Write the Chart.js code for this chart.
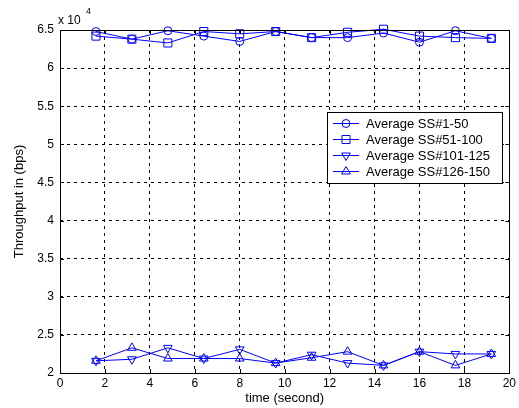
<!DOCTYPE html>
<html><head><meta charset="utf-8">
<script src="https://cdn.jsdelivr.net/npm/chart.js@4/dist/chart.umd.min.js"></script>
<style>html,body{margin:0;padding:0;background:#fff;}canvas{display:block;}</style>
</head><body>
<canvas id="c" width="519" height="408"></canvas>
<script>
// ---- data ----
const timeSec = [1.6, 3.2, 4.8, 6.4, 8.0, 9.6, 11.2, 12.8, 14.4, 16.0, 17.6, 19.2];
const xTickValues = [0, 2, 4, 6, 8, 10, 12, 14, 16, 18, 20];
const yTickValues = [20000, 25000, 30000, 35000, 40000, 45000, 50000, 55000, 60000, 65000];
const seriesLabels = ['Average SS#1-50', 'Average SS#51-100', 'Average SS#101-125', 'Average SS#126-150'];
const ss1_50   = [64800, 63800, 64900, 64200, 63500, 64800, 64000, 64000, 64600, 63400, 64900, 63900];
const ss51_100 = [64200, 63800, 63300, 64800, 64500, 64800, 64000, 64700, 65100, 64200, 64000, 63900];
const ss101_125 = [21600, 21800, 23300, 21900, 23100, 21300, 22400, 21300, 21000, 22800, 22500, 22500];
const ss126_150 = [21600, 23300, 21900, 21900, 21900, 21300, 22000, 22800, 21000, 22800, 21000, 22500];

const FONT = "'Liberation Sans', Arial, Helvetica, sans-serif";
const BLUE = '#0000ff';
const styles = [
  {pointStyle: 'circle', radius: 4, rotation: 0},
  {pointStyle: 'rect', radius: 5.7, rotation: 0},
  {pointStyle: 'triangle', radius: 5, rotation: 180},
  {pointStyle: 'triangle', radius: 5, rotation: 0}
];
const seriesValues = [ss1_50, ss51_100, ss101_125, ss126_150];

const datasets = seriesValues.map((vals, i) => ({
  label: seriesLabels[i],
  data: vals.map((v, j) => ({x: timeSec[j], y: v})),
  borderColor: BLUE,
  backgroundColor: 'transparent',
  borderWidth: 1,
  tension: 0,
  pointStyle: styles[i].pointStyle,
  pointRadius: styles[i].radius,
  pointRotation: styles[i].rotation,
  pointBorderColor: BLUE,
  pointBackgroundColor: 'transparent',
  pointBorderWidth: 1,
  clip: false
}));

function drawMarker(ctx, style, x, y) {
  const r = style.radius;
  ctx.beginPath();
  if (style.pointStyle === 'circle') {
    ctx.arc(x, y, r, 0, Math.PI * 2);
  } else if (style.pointStyle === 'rect') {
    const h = r * Math.SQRT1_2;
    ctx.rect(x - h, y - h, 2 * h, 2 * h);
  } else {
    let rad = style.rotation * Math.PI / 180;
    for (let k = 0; k < 3; k++) {
      const px = x + Math.sin(rad) * r, py = y - Math.cos(rad) * r;
      if (k === 0) ctx.moveTo(px, py); else ctx.lineTo(px, py);
      rad += 2 * Math.PI / 3;
    }
    ctx.closePath();
  }
  ctx.stroke();
}

const matlabPlugin = {
  id: 'matlabDecor',
  afterDraw(chart) {
    const ctx = chart.ctx;
    const a = chart.chartArea;
    const xs = chart.scales.x, ys = chart.scales.y;
    ctx.save();
    // frame
    ctx.strokeStyle = '#000';
    ctx.lineWidth = 1;
    ctx.setLineDash([]);
    ctx.strokeRect(Math.round(a.left) + 0.5, Math.round(a.top) + 0.5,
                   Math.round(a.right - a.left), Math.round(a.bottom - a.top));
    // inward tick marks
    const tl = 4;
    ctx.beginPath();
    xTickValues.forEach(v => {
      const px = Math.round(xs.getPixelForValue(v)) + 0.5;
      ctx.moveTo(px, a.bottom); ctx.lineTo(px, a.bottom - tl);
      ctx.moveTo(px, a.top); ctx.lineTo(px, a.top + tl);
    });
    yTickValues.forEach(v => {
      const py = Math.round(ys.getPixelForValue(v)) + 0.5;
      ctx.moveTo(a.left, py); ctx.lineTo(a.left + tl, py);
      ctx.moveTo(a.right, py); ctx.lineTo(a.right - tl, py);
    });
    ctx.stroke();
    // exponent label
    ctx.fillStyle = '#000';
    ctx.textBaseline = 'alphabetic';
    ctx.textAlign = 'left';
    ctx.font = '12px ' + FONT;
    ctx.fillText('x 10', a.left - 2, a.top - 6);
    ctx.font = '9px ' + FONT;
    ctx.fillText('4', a.left + 26, a.top - 16);
    // legend
    const L = {x: 327, y: 112, w: 175, h: 71};
    ctx.fillStyle = '#fff';
    ctx.fillRect(L.x, L.y, L.w, L.h);
    ctx.strokeStyle = '#000';
    ctx.strokeRect(L.x + 0.5, L.y + 0.5, L.w, L.h);
    ctx.font = '13px ' + FONT;
    ctx.textBaseline = 'middle';
    chart.data.datasets.forEach((ds, i) => {
      const y = L.y + 11.5 + i * 16;
      ctx.strokeStyle = BLUE;
      ctx.lineWidth = 1;
      ctx.beginPath();
      ctx.moveTo(L.x + 6, y); ctx.lineTo(L.x + 32, y);
      ctx.stroke();
      drawMarker(ctx, styles[i], L.x + 19, y);
      ctx.fillStyle = '#000';
      ctx.fillText(ds.label, L.x + 39, y + 0.5);
    });
    ctx.restore();
  }
};

new Chart(document.getElementById('c'), {
  type: 'line',
  data: {datasets},
  plugins: [matlabPlugin],
  options: {
    responsive: false,
    animation: false,
    devicePixelRatio: 1,
    layout: {padding: {top: 30, right: 9, left: 0, bottom: 0}},
    plugins: {legend: {display: false}, tooltip: {enabled: false}},
    scales: {
      x: {
        type: 'linear', min: 0, max: 20,
        afterBuildTicks: s => { s.ticks = xTickValues.map(v => ({value: v})); },
        afterFit: s => { s.height = 35; },
        grid: {color: '#000', lineWidth: 1, drawTicks: false},
        border: {display: false, dash: [3, 4]},
        ticks: {color: '#000', font: {family: FONT, size: 12}, padding: 3, maxRotation: 0,
                callback: v => String(v)},
        title: {display: true, text: 'time (second)', color: '#000',
                font: {family: FONT, size: 13}, padding: {top: 0, bottom: 2}}
      },
      y: {
        type: 'linear', min: 20000, max: 65000,
        afterBuildTicks: s => { s.ticks = yTickValues.map(v => ({value: v})); },
        afterFit: s => { s.width = 60; },
        grid: {color: '#000', lineWidth: 1, drawTicks: false},
        border: {display: false, dash: [3, 4]},
        ticks: {color: '#000', font: {family: FONT, size: 12}, padding: 6,
                callback: v => String(v / 10000)},
        title: {display: true, text: 'Throughput in (bps)', color: '#000',
                font: {family: FONT, size: 13}, padding: {top: 12, bottom: 0}}
      }
    }
  }
});
</script>
</body></html>
